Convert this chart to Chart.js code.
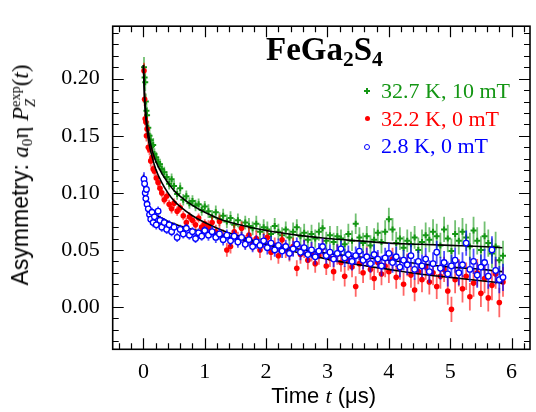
<!DOCTYPE html>
<html><head><meta charset="utf-8">
<script src="https://cdn.jsdelivr.net/npm/chart.js@4.4.1/dist/chart.umd.min.js"></script>
<style>
html,body{margin:0;padding:0;background:#fff;}
#wrap{position:relative;width:536px;height:412px;overflow:hidden;}
canvas{position:absolute;left:0;top:0;}
.lbl{position:absolute;white-space:nowrap;line-height:1;}
.serif{font-family:'Liberation Serif','Times New Roman',serif;}
.sans{font-family:'Liberation Sans',Arial,sans-serif;}
.sb{font-size:0.65em;vertical-align:-0.3em;line-height:0;}
.ss{display:inline-block;font-size:0.62em;vertical-align:-0.5em;line-height:1.05;text-align:left;}
.ss span{display:block;}
.mk{position:absolute;box-sizing:border-box;}
</style></head><body>
<div id="wrap">
<canvas id="c" width="536" height="412"></canvas>
<div class="lbl serif" style="left:266px;top:33px;font-size:33px;font-weight:bold;">FeGa<span class="sb">2</span>S<span class="sb">4</span></div>
<div class="lbl serif" style="left:381px;top:79.5px;font-size:22px;color:rgb(20,150,20);">32.7 K, 10 mT</div>
<div class="lbl serif" style="left:381px;top:107.5px;font-size:22px;color:#ff0000;">32.2 K, 0 mT</div>
<div class="lbl serif" style="left:381px;top:134.5px;font-size:22px;color:#0000ff;">2.8 K, 0 mT</div>
<div class="mk" style="left:364px;top:89.7px;width:6px;height:2px;background:rgb(20,150,20);"></div>
<div class="mk" style="left:366px;top:87.7px;width:2px;height:6px;background:rgb(20,150,20);"></div>
<div class="mk" style="left:364.5px;top:115.5px;width:5px;height:5px;border-radius:50%;background:#ff0000;"></div>
<div class="mk" style="left:364px;top:143.7px;width:6px;height:6px;border-radius:50%;border:1.3px solid #0000ff;background:#fff;"></div>
<div class="lbl sans" style="left:23px;top:175px;font-size:23px;transform:translate(-50%,-50%) rotate(-90deg);">Asymmetry: <span class="serif"><i>a</i><span class="sb">0</span>η <i>P</i><span class="ss"><span>exp</span><span><i>Z</i></span></span>(<i>t</i>)</span></div>
<div class="lbl sans" style="left:323.6px;top:385.4px;font-size:22px;transform:translateX(-50%);">Time <i class="serif">t</i> (μs)</div>
</div>
<script>
// time bins (μs)
const T = [0.01,0.02,0.03,0.04,0.05,0.06,0.08,0.10,0.12,0.14,0.16,0.18,0.21,0.24,0.27,0.30,0.34,0.38,0.42,0.46,0.50,0.55,0.60,0.65,0.70,0.75,0.80,0.85,0.90,0.95,1.00,
1.06,1.12,1.18,1.24,1.30,1.36,1.42,1.48,1.54,1.60,
1.66,1.72,1.78,1.84,1.90,1.96,2.02,2.08,2.14,2.20,
2.26,2.32,2.38,2.44,2.50,2.56,2.62,2.68,2.74,2.80,
2.86,2.92,2.98,3.04,3.10,3.16,3.22,3.28,3.34,3.40,
3.46,3.52,3.58,3.64,3.70,3.76,3.82,3.88,3.94,4.00,
4.06,4.12,4.18,4.24,4.30,4.36,4.42,4.48,4.54,4.60,
4.66,4.72,4.78,4.84,4.90,4.96,5.02,5.08,5.14,5.20,
5.26,5.32,5.38,5.44,5.50,5.56,5.62,5.68,5.74,5.80,
5.86];

// 32.7 K, 10 mT
const green = [0.210,0.201,0.197,0.180,0.172,0.168,0.157,0.150,0.146,0.141,0.142,0.134,0.131,0.127,0.125,0.121,0.118,0.114,0.108,0.112,0.106,0.099,0.104,0.094,0.097,0.091,0.093,0.089,0.090,0.085,0.088,
0.084,0.079,0.083,0.077,0.080,0.075,0.078,0.072,0.076,0.070,
0.074,0.071,0.069,0.073,0.066,0.070,0.068,0.064,0.071,0.066,
0.063,0.068,0.061,0.066,0.070,0.062,0.065,0.059,0.064,0.060,
0.066,0.069,0.058,0.063,0.057,0.062,0.060,0.055,0.064,0.058,
0.073,0.061,0.056,0.062,0.054,0.059,0.065,0.057,0.066,0.077,
0.068,0.056,0.060,0.052,0.058,0.055,0.061,0.050,0.057,0.063,
0.059,0.066,0.062,0.054,0.068,0.060,0.049,0.064,0.058,0.066,
0.061,0.053,0.067,0.058,0.050,0.062,0.056,0.047,0.053,0.041,
0.045];

// 32.2 K, 0 mT
const red = [0.207,0.182,0.165,0.162,0.150,0.156,0.140,0.138,0.128,0.131,0.121,0.119,0.113,0.109,0.104,0.100,0.094,0.097,0.090,0.086,0.091,0.084,0.087,0.080,0.074,0.079,0.076,0.072,0.078,0.070,0.073,
0.070,0.074,0.066,0.075,0.062,0.050,0.053,0.066,0.060,0.069,
0.057,0.063,0.055,0.060,0.050,0.058,0.061,0.048,0.054,0.045,
0.059,0.050,0.047,0.053,0.034,0.046,0.051,0.041,0.048,0.038,
0.045,0.052,0.036,0.043,0.031,0.046,0.039,0.027,0.041,0.035,
0.018,0.038,0.030,0.044,0.033,0.025,0.039,0.029,0.036,0.031,
0.042,0.026,0.034,0.020,0.037,0.028,0.015,0.031,0.024,0.035,
0.022,0.030,0.018,0.027,0.033,0.014,-0.002,0.024,0.030,0.016,
0.027,0.009,0.021,0.030,0.012,0.025,0.008,0.019,0.029,0.004,
0.022];

// 2.8 K, 0 mT
const blue = [0.112,0.108,0.100,0.095,0.103,0.090,0.086,0.081,0.077,0.083,0.074,0.079,0.072,0.084,0.076,0.070,0.074,0.068,0.072,0.066,0.070,0.061,0.068,0.064,0.069,0.063,0.066,0.060,0.065,0.062,0.067,
0.063,0.066,0.061,0.064,0.059,0.063,0.058,0.062,0.057,0.061,
0.055,0.059,0.053,0.057,0.054,0.058,0.052,0.056,0.050,0.054,
0.049,0.053,0.047,0.051,0.055,0.048,0.052,0.046,0.050,0.044,
0.049,0.053,0.045,0.048,0.042,0.047,0.051,0.043,0.046,0.040,
0.045,0.049,0.041,0.044,0.038,0.046,0.042,0.036,0.043,0.047,
0.039,0.044,0.035,0.041,0.037,0.045,0.033,0.040,0.036,0.042,
0.031,0.038,0.048,0.034,0.039,0.029,0.036,0.041,0.030,0.037,
0.056,0.033,0.040,0.028,0.035,0.039,0.027,0.050,0.032,0.024,
0.026];

// error bars, in units of 0.001
const errGreen = [9,8,8,7,7,7,6,6,6,6,6,5,5,5,5,5,5,5,5,5,5,5,5,5,5,5,5,5,5,5,5,
6,6,6,6,6,6,6,6,6,6, 6,7,6,7,7,7,7,7,7,7, 7,7,7,8,7,8,8,8,8,8, 8,8,8,8,8,9,8,9,9,9,
9,9,9,9,9,10,9,10,10,10, 10,10,10,10,10,11,10,11,11,11, 11,11,11,11,11,12,11,12,12,12,
12,12,12,12,12,13,12,13,13,13, 13];
const errRed = [7,6,6,6,5,5,5,5,5,5,4,4,4,4,4,4,4,4,4,4,4,4,4,4,4,4,4,4,4,4,4,
6,6,6,6,6,6,6,6,6,6, 6,7,6,7,7,7,7,7,7,7, 7,7,7,8,7,8,8,8,8,8, 8,8,8,8,8,9,8,9,9,9,
9,9,9,9,9,10,9,10,10,10, 10,10,10,10,10,11,10,11,11,11, 11,11,11,11,11,12,11,12,12,12,
12,12,12,12,12,13,12,13,13,13, 13];
const errBlue = [6,6,5,5,5,5,5,5,5,4,4,4,4,4,4,4,4,4,4,4,4,4,4,4,4,4,4,4,4,4,4,
5,5,5,5,5,5,5,5,5,5, 5,6,5,6,6,6,6,6,6,6, 6,6,6,7,6,7,7,7,7,7, 7,7,7,7,7,8,7,8,8,8,
8,8,8,8,8,9,8,9,9,9, 9,9,9,9,9,10,9,10,10,10, 10,10,10,10,10,11,10,11,11,11,
11,11,11,11,11,12,11,12,12,12, 12];

// fitted curves
const fitT     = [0,0.02,0.04,0.06,0.08,0.10,0.15,0.20,0.30,0.40,0.50,0.60,0.80,1.00,1.25,1.50,2.00,2.50,3.00,3.50,4.00,4.50,5.00,5.50,5.85];
const fitGreen = [0.212,0.185,0.170,0.160,0.153,0.147,0.136,0.128,0.117,0.109,0.102,0.097,0.089,0.083,0.077,0.073,0.067,0.063,0.060,0.058,0.056,0.055,0.054,0.053,0.052];
const fitRed   = [0.212,0.180,0.165,0.155,0.147,0.141,0.130,0.121,0.109,0.100,0.093,0.088,0.080,0.074,0.068,0.063,0.055,0.048,0.042,0.037,0.033,0.029,0.026,0.023,0.021];
const fitBlue  = [0.116,0.100,0.094,0.091,0.088,0.086,0.083,0.081,0.078,0.075,0.073,0.071,0.068,0.066,0.063,0.060,0.055,0.051,0.047,0.044,0.041,0.038,0.035,0.033,0.031];

const xTicks = [0,1,2,3,4,5,6];
const yTicks = [0.00,0.05,0.10,0.15,0.20];

const GREEN = 'rgb(20,150,20)';
const pts = (X, Y) => X.map((t, i) => ({x: t, y: Y[i]}));

const errorBars = {
  id: 'errorBars',
  beforeDatasetDraw(chart, args) {
    const ds = chart.data.datasets[args.index];
    if (!ds.errs) return;
    const {ctx, chartArea: a, scales: {y}} = chart;
    ctx.save();
    ctx.beginPath(); ctx.rect(a.left, a.top, a.right - a.left, a.bottom - a.top); ctx.clip();
    ctx.strokeStyle = ds.errColor; ctx.lineWidth = 1.8;
    ctx.beginPath();
    args.meta.data.forEach((el, i) => {
      const v = ds.data[i].y, e = ds.errs[i] * 0.001;
      ctx.moveTo(el.x, y.getPixelForValue(v + e));
      ctx.lineTo(el.x, y.getPixelForValue(v - e));
    });
    ctx.stroke();
    ctx.restore();
  }
};

const frame = {
  id: 'frame',
  afterDraw(chart) {
    const {ctx, chartArea: a, scales: {x, y}} = chart;
    ctx.save();
    ctx.strokeStyle = '#000';
    ctx.lineWidth = 1.2;
    ctx.beginPath();
    for (let i = -3; i <= 32; i++) {
      const v = i / 5;
      if (v < x.min || v > x.max) continue;
      const px = Math.round(x.getPixelForValue(v)) + 0.5;
      const len = (i % 5 === 0) ? 11 : 6;
      ctx.moveTo(px, a.bottom); ctx.lineTo(px, a.bottom - len);
      ctx.moveTo(px, a.top); ctx.lineTo(px, a.top + len);
    }
    for (let i = -4; i <= 25; i++) {
      const v = i / 100;
      if (v < y.min || v > y.max) continue;
      const py = Math.round(y.getPixelForValue(v)) + 0.5;
      const len = (i % 5 === 0) ? 11 : 6;
      ctx.moveTo(a.left, py); ctx.lineTo(a.left + len, py);
      ctx.moveTo(a.right, py); ctx.lineTo(a.right - len, py);
    }
    ctx.stroke();
    ctx.lineWidth = 1.6;
    ctx.strokeRect(a.left, a.top, a.right - a.left, a.bottom - a.top);
    ctx.restore();
  }
};

const fitStyle = {showLine: true, borderColor: '#000', borderWidth: 1.6, pointRadius: 0, cubicInterpolationMode: 'monotone', fill: false, order: 1};

new Chart(document.getElementById('c'), {
  type: 'scatter',
  data: {
    datasets: [
      {label: '2.8 K, 0 mT', data: pts(T, blue), errs: errBlue, errColor: 'rgba(0,0,255,0.7)',
       pointStyle: 'circle', pointRadius: 2.8, backgroundColor: '#fff', borderColor: '#0000ff', pointBorderWidth: 1.3, order: 0},
      Object.assign({label: 'fit green', data: pts(fitT, fitGreen)}, fitStyle),
      Object.assign({label: 'fit red', data: pts(fitT, fitRed)}, fitStyle),
      Object.assign({label: 'fit blue', data: pts(fitT, fitBlue)}, fitStyle),
      {label: '32.2 K, 0 mT', data: pts(T, red), errs: errRed, errColor: 'rgba(255,0,0,0.6)',
       pointStyle: 'circle', pointRadius: 2.8, backgroundColor: '#ff0000', borderColor: '#ff0000', pointBorderWidth: 0, order: 2},
      {label: '32.7 K, 10 mT', data: pts(T, green), errs: errGreen, errColor: 'rgba(20,150,20,0.6)',
       pointStyle: 'cross', pointRadius: 3, backgroundColor: GREEN, borderColor: GREEN, pointBorderWidth: 2, order: 3}
    ]
  },
  options: {
    responsive: false,
    animation: false,
    layout: {padding: {left: 0, right: 1.4, top: 9.3, bottom: 0}},
    plugins: {legend: {display: false}, tooltip: {enabled: false}},
    scales: {
      x: {
        type: 'linear', min: -0.5, max: 6.3,
        afterBuildTicks: s => { s.ticks = xTicks.map(v => ({value: v})); },
        afterFit: s => { s.height = 62.7; },
        grid: {display: false, drawTicks: false},
        border: {display: false},
        ticks: {color: '#000', padding: 10, font: {family: "'Liberation Serif', serif", size: 22}, callback: v => String(v), maxRotation: 0}
      },
      y: {
        type: 'linear', min: -0.037, max: 0.246,
        afterBuildTicks: s => { s.ticks = yTicks.map(v => ({value: v})); },
        afterFit: s => { s.width = 112.7; },
        grid: {display: false, drawTicks: false},
        border: {display: false},
        ticks: {color: '#000', padding: 13, font: {family: "'Liberation Serif', serif", size: 22}, callback: v => v.toFixed(2)}
      }
    }
  },
  plugins: [errorBars, frame]
});
</script>
</body></html>
